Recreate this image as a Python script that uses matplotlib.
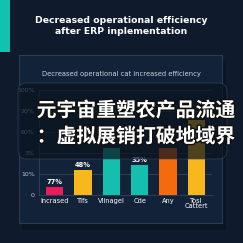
import matplotlib
matplotlib.use("Agg")
import matplotlib.pyplot as plt
import matplotlib.patheffects as pe
from matplotlib.patches import FancyBboxPatch, Rectangle

# ── Data ──────────────────────────────────────────────────────────────────
categories = ["Incrased", "Tlfs", "Vlinagel", "Cde", "Any", "Tosl\nCattert"]
bar_values = [0.38, 1.19, 2.24, 1.43, 2.24, 3.57]   # in tick-step units
bar_colors = ["#ec1c5a", "#f8b81c", "#14bfae", "#14bfae", "#f56a0c", "#f8b81c"]
value_labels = ["77%", "48%", "", "35%", "", ""]
tick_pos = [0, 1, 2, 3, 4, 5]
tick_labels = ["0", "10%", "3%", "60%", "20%", "100%"]

BG = "#0f1b2c"
PANEL = "#122238"
W = H = 243

fig = plt.figure(figsize=(2.43, 2.43), dpi=100)
fig.patch.set_facecolor(BG)


def fx(px):
    return px / W


def fy(py):
    return 1 - py / H


# teal accent bar top-left
fig.patches.append(Rectangle((0, fy(52)), fx(10), 52 / H, transform=fig.transFigure,
                             facecolor="#12c2b0", edgecolor="none", zorder=-2))

# title
fig.text(0.5, fy(26), "Decreased operational efficiency\nafter ERP inplementation",
         ha="center", va="center", color="white", fontsize=6.7, fontweight="bold",
         linespacing=1.35)

# soft shadow + panel card
fig.patches.append(Rectangle((fx(22), fy(230)), fx(204), (230 - 60) / H,
                             transform=fig.transFigure, facecolor="#0a1422",
                             edgecolor="none", zorder=-3))
fig.patches.append(Rectangle((fx(19), fy(223)), fx(203), (223 - 55) / H,
                             transform=fig.transFigure, facecolor=PANEL,
                             edgecolor="#2b3c52", linewidth=0.8, zorder=-1))
fig.text(0.5, fy(74), "Decreased operational cat increased efficiency",
         ha="center", va="center", color="#c9d2de", fontsize=4.9)

# ── Chart axes ────────────────────────────────────────────────────────────
ax = fig.add_axes([fx(39), fy(195), fx(212 - 39), (195 - 90) / H])
ax.set_zorder(2)
ax.set_facecolor("none")
x = list(range(len(categories)))
ax.bar(x, bar_values, width=0.62, color=bar_colors, zorder=3)
for xi, v, lab in zip(x, bar_values, value_labels):
    if lab:
        ax.text(xi, v + 0.1, lab, ha="center", va="bottom", color="white",
                fontsize=4.8, fontweight="bold")
ax.set_xlim(-0.55, len(categories) - 0.45)
ax.set_ylim(0, 5)
ax.set_yticks(tick_pos)
ax.set_yticklabels(tick_labels)
ax.set_xticks(x)
ax.set_xticklabels(categories, linespacing=0.8)
ax.tick_params(axis="y", colors="#c0c8d4", labelsize=4.5, length=0, pad=3)
ax.tick_params(axis="x", colors="white", labelsize=4.8, length=0, pad=2)
ax.grid(axis="y", color="#33455c", linewidth=0.6, zorder=0)
for s in ["top", "right"]:
    ax.spines[s].set_visible(False)
ax.spines["left"].set_color("#33455c")
ax.spines["bottom"].set_color("#33455c")
ax.spines["left"].set_linewidth(0.6)
ax.spines["bottom"].set_linewidth(0.6)

# ── Caption overlay ───────────────────────────────────────────────────────
fig.patches.append(FancyBboxPatch((fx(18), fy(159)), fx(209), (159 - 83) / H,
                                  boxstyle="round,pad=0,rounding_size=0.035",
                                  transform=fig.transFigure, facecolor="#0b1320",
                                  alpha=0.72, edgecolor="#3a4658", linewidth=0.6,
                                  zorder=5))
stroke = [pe.withStroke(linewidth=2.0, foreground="#111111")]
fig.text(fx(136), fy(110), "元宇宙重塑农产品流通", ha="center", va="center",
         color="white", fontsize=14.3, fontweight="bold",
         family=["Noto Sans CJK SC", "DejaVu Sans"], path_effects=stroke, zorder=6)
fig.text(fx(136), fy(136), "：虚拟展销打破地域界", ha="center", va="center",
         color="white", fontsize=14.3, fontweight="bold",
         family=["Noto Sans CJK SC", "DejaVu Sans"], path_effects=stroke, zorder=6)

fig.savefig("out.png", dpi=100, facecolor=BG)
